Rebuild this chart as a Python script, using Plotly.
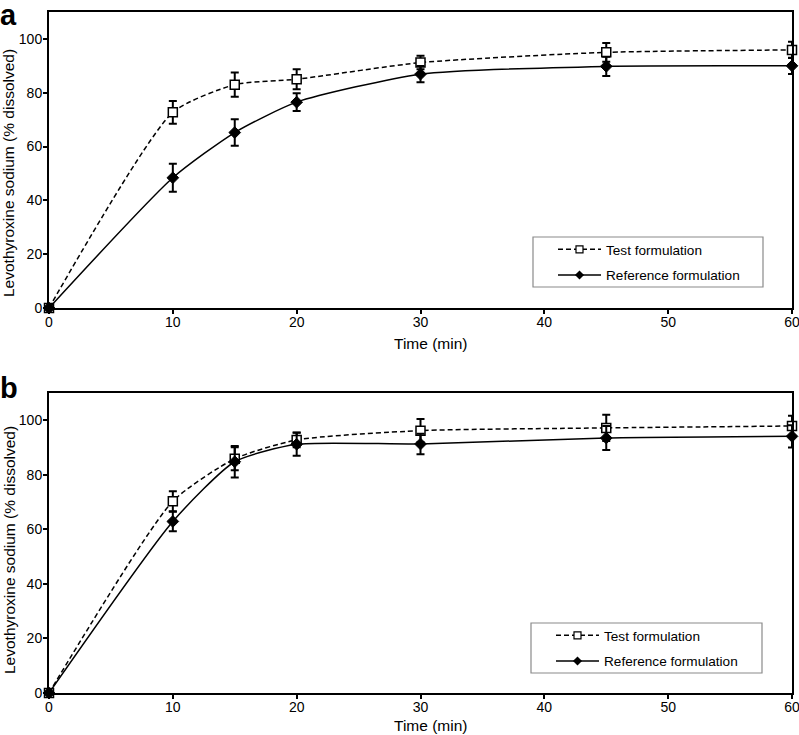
import plotly.graph_objects as go

time_min = [0, 10, 15, 20, 30, 45, 60]

a_test = [0, 72.7, 83.0, 85.0, 91.2, 95.0, 95.9]
a_test_err = [0, 4.2, 4.5, 3.7, 2.5, 3.5, 3.0]
a_ref = [0, 48.4, 65.2, 76.5, 86.9, 89.8, 90.0]
a_ref_err = [0, 5.2, 4.9, 3.3, 3.0, 3.6, 3.0]

b_test = [0, 70.3, 85.9, 92.8, 96.2, 97.2, 97.9]
b_test_err = [0, 3.7, 4.2, 2.7, 4.3, 4.8, 3.8]
b_ref = [0, 62.9, 84.8, 91.2, 91.3, 93.5, 94.1]
b_ref_err = [0, 3.6, 5.8, 4.2, 3.8, 4.4, 4.1]

series_names = ["Test formulation", "Reference formulation"]
panel_labels = ["a", "b"]
x_title = "Time (min)"
y_title = "Levothyroxine sodium (% dissolved)"
x_ticks = [0, 10, 20, 30, 40, 50, 60]
y_ticks = [0, 20, 40, 60, 80, 100]

FONT = "Liberation Sans, Arial, sans-serif"
SMOOTH = 0.6
DASH = "5px,3px"

W, H = 799, 735
ML, MR, MT, MB = 49, 7, 12, 42
PW = W - ML - MR
PH = H - MT - MB


def px(xp):
    return (xp - ML) / PW


def py(yp):
    return (H - MB - yp) / PH


fig = go.Figure()


def add_panel(test, test_err, ref, ref_err, xa, ya, legend, tag):
    fig.add_trace(go.Scatter(
        x=time_min, y=test, name=series_names[0], mode="lines+markers", showlegend=False,
        line=dict(color="black", width=1.5, dash=DASH, shape="spline", smoothing=SMOOTH),
        marker=dict(symbol="square", size=9, color="white", line=dict(color="black", width=1.5)),
        error_y=dict(type="data", array=test_err, color="black", thickness=2, width=4),
        xaxis=xa, yaxis=ya, cliponaxis=False))
    fig.add_trace(go.Scatter(
        x=time_min, y=ref, name=series_names[1], mode="lines+markers", showlegend=False,
        line=dict(color="black", width=1.5, shape="spline", smoothing=SMOOTH),
        marker=dict(symbol="diamond", size=9, color="black", line=dict(color="black", width=1)),
        error_y=dict(type="data", array=ref_err, color="black", thickness=2, width=4),
        xaxis=xa, yaxis=ya, cliponaxis=False))
    # legend entries (smaller symbols, as in the reference legend)
    fig.add_trace(go.Scatter(
        x=[None], y=[None], name=series_names[0], mode="lines+markers",
        line=dict(color="black", width=1.5, dash=DASH),
        marker=dict(symbol="square", size=7, color="white", line=dict(color="black", width=1.2)),
        xaxis=xa, yaxis=ya, legend=legend, legendgroup=tag + "t"))
    fig.add_trace(go.Scatter(
        x=[None], y=[None], name=series_names[1], mode="lines+markers",
        line=dict(color="black", width=1.5),
        marker=dict(symbol="diamond", size=7, color="black"),
        xaxis=xa, yaxis=ya, legend=legend, legendgroup=tag + "r"))


add_panel(a_test, a_test_err, a_ref, a_ref_err, "x", "y", "legend", "a")
add_panel(b_test, b_test_err, b_ref, b_ref_err, "x2", "y2", "legend2", "b")

tickfont = dict(family=FONT, size=14, color="black")
titlefont = dict(family=FONT, size=15.5, color="black")

xcommon = dict(range=[0, 60], tickvals=x_ticks, showline=True, linecolor="black", linewidth=2,
               mirror=True, ticks="outside", ticklen=4, tickwidth=1.5, tickcolor="black",
               showgrid=False, zeroline=False, automargin=False, tickfont=tickfont,
               ticklabelstandoff=-4, ticklabeloverflow="allow")
ycommon = dict(range=[0, 110], tickvals=y_ticks, showline=True, linecolor="black", linewidth=2,
               mirror=True, ticks="outside", ticklen=4, tickwidth=1.5, tickcolor="black",
               showgrid=False, zeroline=False, automargin=False, tickfont=tickfont,
               ticklabelstandoff=-2, ticklabeloverflow="allow")

legcommon = dict(xanchor="left", yanchor="top", borderwidth=0,
                 bgcolor="rgba(0,0,0,0)", font=dict(family=FONT, size=13.6, color="black"),
                 itemwidth=43, tracegroupgap=5)

annotations = []
# panel letters
for lab, ytop in zip(panel_labels, [-3, 370]):
    annotations.append(dict(text="<b>" + lab + "</b>", x=px(-2), y=py(ytop), xref="paper",
                            yref="paper", xanchor="left", yanchor="top", showarrow=False,
                            font=dict(family=FONT, size=29, color="black")))
# axis titles
for yc in [173, 550]:
    annotations.append(dict(text=y_title, x=px(9), y=py(yc), xref="paper", yref="paper",
                            xanchor="center", yanchor="middle", textangle=-90,
                            showarrow=False, font=titlefont))
for yc in [343, 725]:
    annotations.append(dict(text=x_title, x=px(430), y=py(yc), xref="paper", yref="paper",
                            xanchor="center", yanchor="middle", showarrow=False,
                            font=titlefont))

shapes = []
# legend boxes
for (lx0, ly0, lx1, ly1) in [(533, 237, 763, 287), (531, 623, 762, 673)]:
    shapes.append(dict(type="rect", xref="paper", yref="paper", x0=px(lx0), x1=px(lx1),
                       y0=py(ly1), y1=py(ly0), line=dict(color="#8a8a8a", width=1.2),
                       fillcolor="white", layer="below"))

fig.update_layout(
    template="none",
    width=W, height=H,
    margin=dict(l=ML, r=MR, t=MT, b=MB, autoexpand=False),
    paper_bgcolor="white", plot_bgcolor="rgba(0,0,0,0)",
    font=dict(family=FONT, size=14, color="black"),
    xaxis=dict(domain=[0, 1], anchor="y", **xcommon),
    yaxis=dict(domain=[py(308), 1], anchor="x", **ycommon),
    xaxis2=dict(domain=[0, 1], anchor="y2", **xcommon),
    yaxis2=dict(domain=[0, py(393)], anchor="x2", **ycommon),
    legend=dict(x=px(553), y=py(234), **legcommon),
    legend2=dict(x=px(551), y=py(620), **legcommon),
    annotations=annotations,
    shapes=shapes,
)

fig.write_html("out.html", config={"displayModeBar": False},
               post_script="document.body.style.margin='0';document.body.style.padding='0';")
